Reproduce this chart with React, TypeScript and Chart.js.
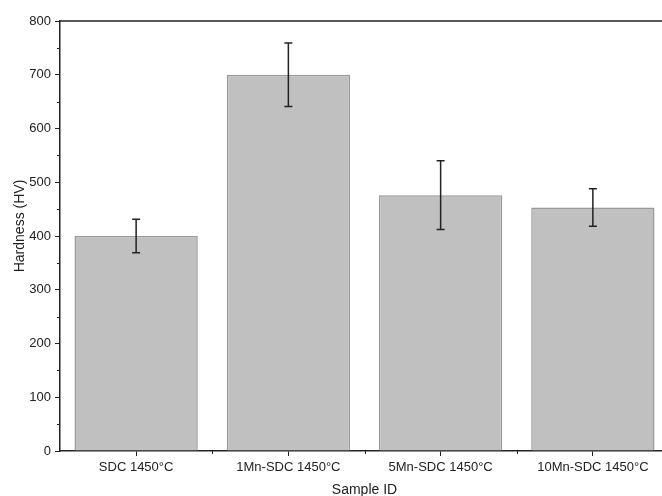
import React, { useEffect, useRef } from 'react';
import { Chart, registerables } from 'chart.js';

Chart.register(...registerables);

const categories = ['SDC 1450°C', '1Mn-SDC 1450°C', '5Mn-SDC 1450°C', '10Mn-SDC 1450°C'];
const hardness = [400, 700, 476, 453];
const hardnessError = [31, 59, 64, 35];
const yMin = 0;
const yMax = 800;
const yStep = 100;
const yTitle = 'Hardness (HV)';
const xTitle = 'Sample ID';

const W = 680;
const H = 496;
const FONT = '"Liberation Sans", Arial, sans-serif';

const decorPlugin = {
  id: 'decor',
  afterDatasetsDraw(chart: any) {
    const ctx = chart.ctx;
    const area = chart.chartArea;
    const xs = chart.scales.x;
    const ys = chart.scales.y;
    ctx.save();
    // error bars
    const meta = chart.getDatasetMeta(0);
    ctx.strokeStyle = '#222';
    ctx.lineWidth = 1.5;
    meta.data.forEach((el: any, i: number) => {
      const v = hardness[i];
      const e = hardnessError[i];
      const yt = ys.getPixelForValue(v + e);
      const yb = ys.getPixelForValue(v - e);
      const x = el.x;
      ctx.beginPath();
      ctx.moveTo(x, yt);
      ctx.lineTo(x, yb);
      ctx.moveTo(x - 4, yt);
      ctx.lineTo(x + 4, yt);
      ctx.moveTo(x - 4, yb);
      ctx.lineTo(x + 4, yb);
      ctx.stroke();
    });
    // top frame line
    ctx.strokeStyle = '#222';
    ctx.lineWidth = 1.5;
    ctx.beginPath();
    ctx.moveTo(area.left, area.top);
    ctx.lineTo(chart.width, area.top);
    ctx.stroke();
    // minor ticks y
    ctx.lineWidth = 1;
    for (let v = yMin + yStep / 2; v < yMax; v += yStep) {
      const y = Math.round(ys.getPixelForValue(v)) + 0.5;
      ctx.beginPath();
      ctx.moveTo(area.left - 3, y);
      ctx.lineTo(area.left, y);
      ctx.stroke();
    }
    // minor ticks x at category boundaries
    for (let i = 0; i < categories.length - 1; i++) {
      const x = Math.round((xs.getPixelForValue(i) + xs.getPixelForValue(i + 1)) / 2) + 0.5;
      ctx.beginPath();
      ctx.moveTo(x, area.bottom);
      ctx.lineTo(x, area.bottom + 3);
      ctx.stroke();
    }
    // titles
    ctx.fillStyle = '#222';
    ctx.font = `14px ${FONT}`;
    ctx.textAlign = 'center';
    ctx.textBaseline = 'middle';
    ctx.fillText(xTitle, (area.left + area.right) / 2, 490);
    ctx.translate(20, 226);
    ctx.rotate(-Math.PI / 2);
    ctx.fillText(yTitle, 0, 0);
    ctx.restore();
  },
};

export default function App() {
  const ref = useRef<HTMLCanvasElement | null>(null);
  useEffect(() => {
    if (!ref.current) return;
    const chart = new Chart(ref.current, {
      type: 'bar',
      data: {
        labels: categories,
        datasets: [
          {
            data: hardness,
            backgroundColor: '#c0c0c0',
            borderColor: '#999999',
            borderWidth: 1.5,
            barPercentage: 0.81,
            categoryPercentage: 1,
          },
        ],
      },
      options: {
        responsive: false,
        animation: false,
        devicePixelRatio: 1,
        layout: { padding: { top: 21, right: 11, left: 0, bottom: 0 } },
        plugins: { legend: { display: false }, tooltip: { enabled: false } },
        scales: {
          x: {
            offset: true,
            grid: {
              display: true,
              drawOnChartArea: false,
              drawTicks: true,
              tickLength: 5,
              offset: false,
              color: '#222',
              lineWidth: 1,
            },
            border: { display: true, color: '#222', width: 1.5 },
            ticks: {
              color: '#222',
              font: { family: FONT, size: 13 },
              padding: 4,
              maxRotation: 0,
              autoSkip: false,
            },
            afterFit: (s: any) => {
              s.height = 45;
            },
          },
          y: {
            min: yMin,
            max: yMax,
            grid: {
              display: true,
              drawOnChartArea: false,
              drawTicks: true,
              tickLength: 5,
              color: '#222',
              lineWidth: 1,
            },
            border: { display: true, color: '#222', width: 1.5 },
            ticks: {
              stepSize: yStep,
              color: '#222',
              font: { family: FONT, size: 13 },
              padding: 4,
            },
            afterFit: (s: any) => {
              s.width = 60;
            },
          },
        },
      },
      plugins: [decorPlugin],
    });
    return () => chart.destroy();
  }, []);
  return (
    <div
      style={{
        position: 'fixed',
        left: 0,
        top: 0,
        width: 662,
        height: 496,
        overflow: 'hidden',
        background: '#fff',
      }}
    >
      <canvas ref={ref} width={W} height={H} style={{ display: 'block', width: W, height: H }} />
    </div>
  );
}
